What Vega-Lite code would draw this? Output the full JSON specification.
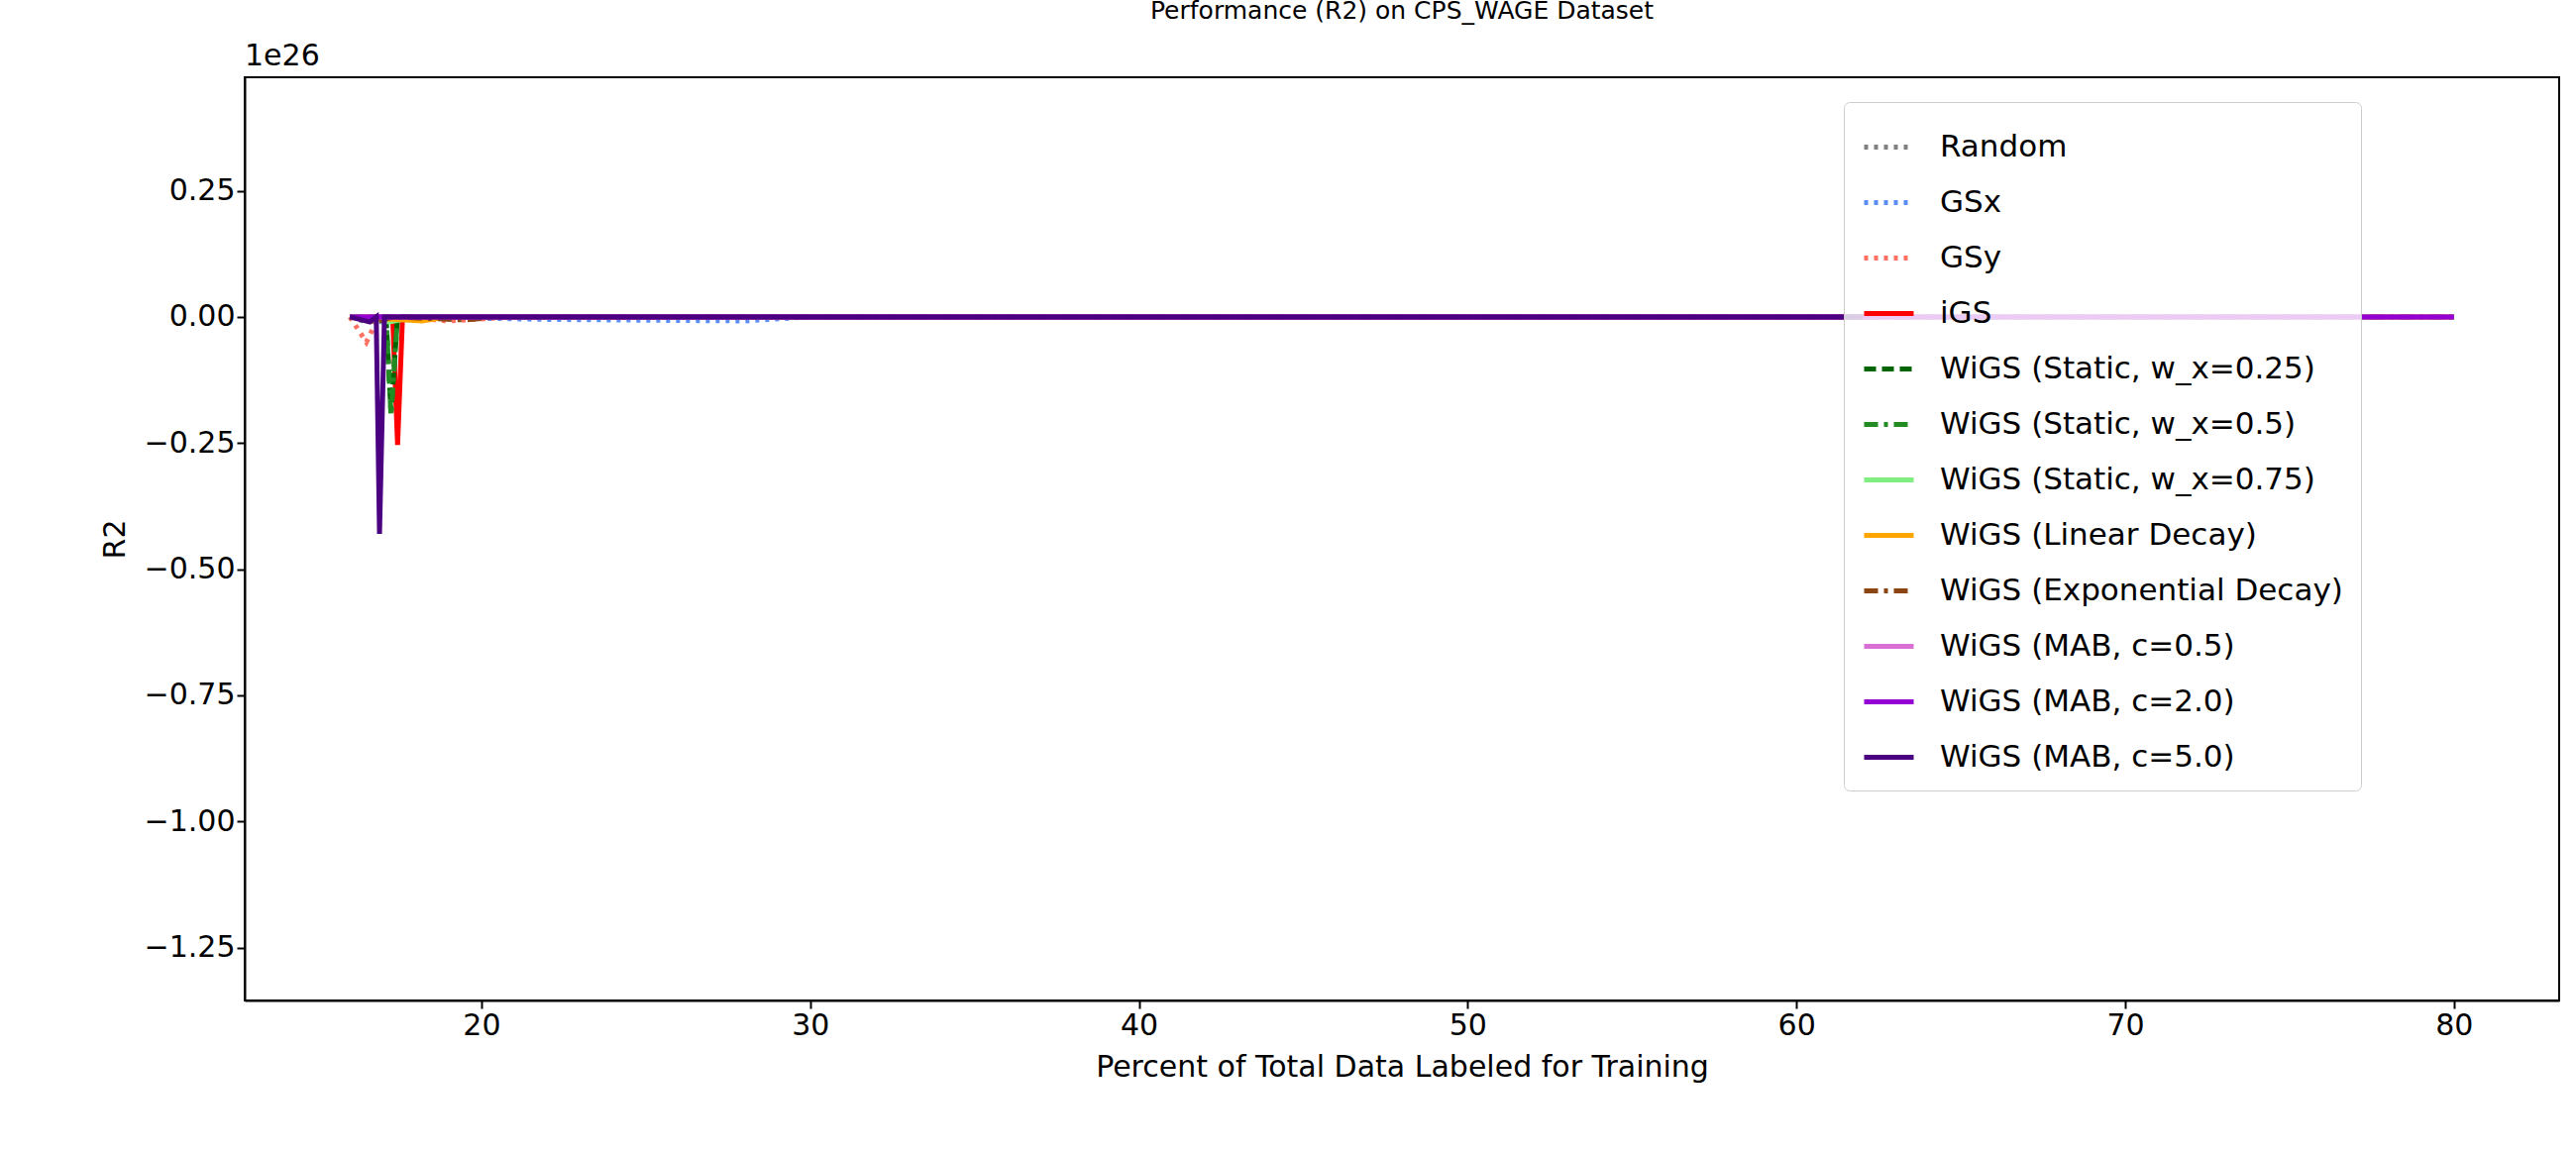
{
  "$schema": "https://vega.github.io/schema/vega-lite/v6.json",
  "width": 2336,
  "height": 932,
  "padding": {"left": 247, "top": 78, "right": 17, "bottom": 156},
  "autosize": "none",
  "background": "white",
  "title": {"text": "Performance (R2) on CPS_WAGE Dataset", "fontSize": 25, "fontWeight": "normal", "font": "DejaVu Sans", "offset": 18},
  "config": {
    "font": "DejaVu Sans",
    "view": {"stroke": "black", "strokeWidth": 2},
    "axis": {"grid": false, "labelFontSize": 30, "titleFontSize": 30, "titleFontWeight": "normal", "labelColor": "black", "titleColor": "black", "domainColor": "black", "tickColor": "black", "tickSize": 8, "tickWidth": 2, "domainWidth": 2}
  },
  "layer": [
    {
      "data": {"values": [{"x": 12.8, "y": 0.475, "t": "1e26"}]},
      "mark": {"type": "text", "fontSize": 30, "align": "left", "baseline": "bottom", "dy": -6, "color": "black"},
      "encoding": {
        "x": {"field": "x", "type": "quantitative", "scale": {"domain": [12.8, 83.2], "nice": false, "zero": false}},
        "y": {"field": "y", "type": "quantitative", "scale": {"domain": [-1.355, 0.475], "nice": false, "zero": false}},
        "text": {"field": "t"}
      }
    },
    {
      "data": {"values": [
        {"s": "Random", "x": 16, "y": 0}, {"s": "Random", "x": 16.5, "y": -0.01}, {"s": "Random", "x": 17, "y": 0}, {"s": "Random", "x": 18, "y": -0.005}, {"s": "Random", "x": 20, "y": 0}, {"s": "Random", "x": 30, "y": 0}, {"s": "Random", "x": 50, "y": 0}, {"s": "Random", "x": 80, "y": 0},
        {"s": "GSx", "x": 16, "y": 0}, {"s": "GSx", "x": 17, "y": -0.01}, {"s": "GSx", "x": 18, "y": 0}, {"s": "GSx", "x": 22, "y": -0.005}, {"s": "GSx", "x": 28, "y": -0.008}, {"s": "GSx", "x": 30, "y": 0}, {"s": "GSx", "x": 80, "y": 0},
        {"s": "GSy", "x": 16, "y": 0}, {"s": "GSy", "x": 16.5, "y": -0.05}, {"s": "GSy", "x": 16.8, "y": -0.01}, {"s": "GSy", "x": 17.5, "y": 0}, {"s": "GSy", "x": 19, "y": -0.008}, {"s": "GSy", "x": 21, "y": 0}, {"s": "GSy", "x": 80, "y": 0},
        {"s": "iGS", "x": 16, "y": 0}, {"s": "iGS", "x": 17.3, "y": 0}, {"s": "iGS", "x": 17.45, "y": -0.254}, {"s": "iGS", "x": 17.6, "y": 0}, {"s": "iGS", "x": 20, "y": 0}, {"s": "iGS", "x": 80, "y": 0},
        {"s": "WiGS (Static, w_x=0.25)", "x": 16, "y": 0}, {"s": "WiGS (Static, w_x=0.25)", "x": 17.1, "y": 0}, {"s": "WiGS (Static, w_x=0.25)", "x": 17.25, "y": -0.19}, {"s": "WiGS (Static, w_x=0.25)", "x": 17.45, "y": 0}, {"s": "WiGS (Static, w_x=0.25)", "x": 80, "y": 0},
        {"s": "WiGS (Static, w_x=0.5)", "x": 16, "y": 0}, {"s": "WiGS (Static, w_x=0.5)", "x": 17.1, "y": 0}, {"s": "WiGS (Static, w_x=0.5)", "x": 17.25, "y": -0.195}, {"s": "WiGS (Static, w_x=0.5)", "x": 17.45, "y": 0}, {"s": "WiGS (Static, w_x=0.5)", "x": 80, "y": 0},
        {"s": "WiGS (Static, w_x=0.75)", "x": 16, "y": 0}, {"s": "WiGS (Static, w_x=0.75)", "x": 17.2, "y": -0.01}, {"s": "WiGS (Static, w_x=0.75)", "x": 18, "y": 0}, {"s": "WiGS (Static, w_x=0.75)", "x": 80, "y": 0},
        {"s": "WiGS (Linear Decay)", "x": 16, "y": 0}, {"s": "WiGS (Linear Decay)", "x": 18.2, "y": -0.008}, {"s": "WiGS (Linear Decay)", "x": 19, "y": 0}, {"s": "WiGS (Linear Decay)", "x": 80, "y": 0},
        {"s": "WiGS (Exponential Decay)", "x": 16, "y": 0}, {"s": "WiGS (Exponential Decay)", "x": 16.8, "y": -0.01}, {"s": "WiGS (Exponential Decay)", "x": 17.3, "y": 0}, {"s": "WiGS (Exponential Decay)", "x": 19.5, "y": -0.006}, {"s": "WiGS (Exponential Decay)", "x": 20.5, "y": 0}, {"s": "WiGS (Exponential Decay)", "x": 80, "y": 0},
        {"s": "WiGS (MAB, c=0.5)", "x": 16, "y": 0}, {"s": "WiGS (MAB, c=0.5)", "x": 80, "y": 0},
        {"s": "WiGS (MAB, c=2.0)", "x": 16, "y": 0}, {"s": "WiGS (MAB, c=2.0)", "x": 80, "y": 0},
        {"s": "WiGS (MAB, c=5.0)", "x": 16, "y": 0}, {"s": "WiGS (MAB, c=5.0)", "x": 16.6, "y": -0.01}, {"s": "WiGS (MAB, c=5.0)", "x": 16.8, "y": 0}, {"s": "WiGS (MAB, c=5.0)", "x": 16.9, "y": -0.43}, {"s": "WiGS (MAB, c=5.0)", "x": 17.05, "y": 0}, {"s": "WiGS (MAB, c=5.0)", "x": 18, "y": 0}, {"s": "WiGS (MAB, c=5.0)", "x": 25, "y": 0}, {"s": "WiGS (MAB, c=5.0)", "x": 62, "y": 0}
      ]},
      "mark": {"type": "line", "strokeWidth": 5, "clip": true},
      "encoding": {
        "x": {"field": "x", "type": "quantitative", "scale": {"domain": [12.8, 83.2], "nice": false, "zero": false}, "axis": {"values": [20, 30, 40, 50, 60, 70, 80], "title": "Percent of Total Data Labeled for Training", "titlePadding": 12}},
        "y": {"field": "y", "type": "quantitative", "scale": {"domain": [-1.355, 0.475], "nice": false, "zero": false}, "axis": {"values": [-1.25, -1, -0.75, -0.5, -0.25, 0, 0.25], "format": ".2f", "labelExpr": "replace(datum.label, '-', '\u2212')", "title": "R2", "titlePadding": 14}},
        "color": {"field": "s", "type": "nominal", "title": null,
          "scale": {"domain": ["Random", "GSx", "GSy", "iGS", "WiGS (Static, w_x=0.25)", "WiGS (Static, w_x=0.5)", "WiGS (Static, w_x=0.75)", "WiGS (Linear Decay)", "WiGS (Exponential Decay)", "WiGS (MAB, c=0.5)", "WiGS (MAB, c=2.0)", "WiGS (MAB, c=5.0)"],
            "range": ["#808080", "#5b8ef5", "#ff7060", "#ff0000", "#006400", "#228b22", "#80ee80", "#ffa500", "#8b4513", "#da70d6", "#9400d3", "#4b0082"]},
          "legend": {"orient": "none", "legendX": 1614, "legendY": 25, "symbolType": "stroke", "symbolSize": 2500, "symbolStrokeWidth": 5, "labelFontSize": 31, "labelLimit": 0, "labelColor": "black", "rowPadding": 13, "padding": 18, "strokeColor": "#cccccc", "fillColor": "rgba(255,255,255,0.8)", "cornerRadius": 6, "labelOffset": 24}},
        "strokeDash": {"field": "s", "type": "nominal", "legend": null,
          "scale": {"domain": ["Random", "GSx", "GSy", "iGS", "WiGS (Static, w_x=0.25)", "WiGS (Static, w_x=0.5)", "WiGS (Static, w_x=0.75)", "WiGS (Linear Decay)", "WiGS (Exponential Decay)", "WiGS (MAB, c=0.5)", "WiGS (MAB, c=2.0)", "WiGS (MAB, c=5.0)"],
            "range": [[4, 6], [4, 6], [4, 6], [1, 0], [12, 6], [14, 6, 4, 6], [1, 0], [1, 0], [14, 6, 4, 6], [1, 0], [1, 0], [1, 0]]}}
      }
    }
  ]
}
